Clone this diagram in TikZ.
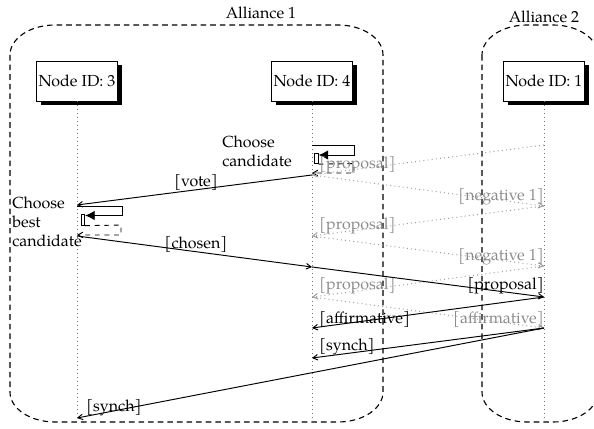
\documentclass[tikz,border=0pt]{standalone}
\usepackage{fontspec}
\setmainfont{TeX Gyre Pagella}
\usetikzlibrary{arrows.meta,shadows}
\begin{document}
\begin{tikzpicture}[x=0.625pt,y=-0.625pt,
  inst/.style={draw,fill=white,minimum width=50.5pt,minimum height=25pt,inner sep=1pt,line width=0.5pt,
    drop shadow={shadow xshift=2.6pt,shadow yshift=-2.6pt,opacity=1,fill=black}},
  life/.style={black!55,dotted,line width=0.5pt},
  alliance/.style={dash pattern=on 3.5pt off 2.5pt,line width=0.7pt},
  msg/.style={line width=0.6pt,-{Straight Barb[angle=60:3.5pt]}},
  gmsg/.style={black!40,dotted,line width=0.6pt,-{Straight Barb[angle=60:3.5pt]}},
  lbl/.style={inner sep=0pt},
  glbl/.style={inner sep=0pt,text=black!45},
  selfc/.style={line width=0.6pt,-{Latex[length=6pt,width=6pt]}},
  selfr/.style={dashed,line width=0.6pt,-{Straight Barb[angle=60:3.5pt]}},
  act/.style={draw,fill=white,line width=0.5pt,inner sep=0pt,minimum width=2.4pt,minimum height=6.5pt}
]
\useasboundingbox (0,0) rectangle (594,429);

% alliances
\draw[alliance] (10,55) -- (10,392) arc[start angle=180,end angle=90,x radius=45,y radius=30]
  -- (338,422) arc[start angle=90,end angle=0,x radius=45,y radius=30]
  -- (383,55) arc[start angle=0,end angle=-90,x radius=45,y radius=30]
  -- (55,25) arc[start angle=-90,end angle=-180,x radius=45,y radius=30] -- cycle;
\node[lbl] (al1) at (261,13) {Alliance 1};
\draw[alliance] (482,55) -- (482,392) arc[start angle=180,end angle=90,x radius=45,y radius=30]
  -- (553,422) arc[start angle=90,end angle=0,x radius=45,y radius=30]
  -- (598,55) arc[start angle=0,end angle=-90,x radius=45,y radius=30]
  -- (527,25) arc[start angle=-90,end angle=-180,x radius=45,y radius=30] -- cycle;
\node[lbl] (al2) at (544,17) {Alliance 2};

% instances
\node[inst] (n3) at (77,81) {Node ID: 3};
\node[inst] (n4) at (312,81) {Node ID: 4};
\node[inst] (n1) at (544,81) {Node ID: 1};
\draw[life] (n3.south) -- (n3 |- 0,421);
\draw[life] (n4.south) -- (n4 |- 0,421);
\draw[life] (n1.south) -- (n1 |- 0,421);

% self call on node 4
\node[act,anchor=north west] (a4) at (314,153) {};
\draw[selfc] (n4 |- 0,145) -- (354,145) -- (354,155) -- (a4.east |- 0,155);
\draw[selfr] (a4.south east) -- (354,163.5) -- (354,173) -- (n4 |- 0,173);
\node[lbl,anchor=west,align=left] (c4) at (222,151) {Choose\\candidate};

% grey messages
\draw[gmsg] (n1 |- 0,145) -- (n4 |- 0,175);
\node[glbl,anchor=west] (g1) at (319,165) {[proposal]};
\draw[gmsg] (n4 |- 0,175) -- (n1 |- 0,206);
\node[glbl,anchor=east] (g2) at (544,197) {[negative 1]};
\draw[gmsg] (n1 |- 0,206) -- (n4 |- 0,236);
\node[glbl,anchor=west] (g3) at (319,226) {[proposal]};
\draw[gmsg] (n4 |- 0,236) -- (n1 |- 0,266);
\node[glbl,anchor=east] (g4) at (544,257) {[negative 1]};
\draw[gmsg] (n1 |- 0,266) -- (n4 |- 0,297);
\node[glbl,anchor=west] (g5) at (319,286) {[proposal]};
\draw[gmsg] (n4 |- 0,297) -- (n1 |- 0,328);
\node[glbl,anchor=east] (g6) at (544,319) {[affirmative]};

% vote
\draw[msg] (n4 |- 0,175) -- (n3 |- 0,205);
\node[lbl] (vote) at (196,183) {[vote]};

% self call on node 3
\node[act,anchor=north west] (a3) at (80.5,214.5) {};
\draw[selfc] (n3 |- 0,206) -- (122,206) -- (122,215.5) -- (a3.east |- 0,215.5);
\draw[selfr] (a3.south east) -- (121,225) -- (121,235) -- (n3 |- 0,235);
\node[lbl,anchor=west,align=left] (c3) at (12,222) {Choose\\best\\candidate};

% chosen
\draw[msg] (n3 |- 0,236) -- (n4 |- 0,267);
\node[lbl] (chosen) at (196,244) {[chosen]};

% black messages
\draw[msg] (n4 |- 0,267) -- (n1 |- 0,297);
\node[lbl,anchor=east] (b1) at (544,286) {[proposal]};
\draw[msg] (n1 |- 0,297) -- (n4 |- 0,328);
\node[lbl,anchor=west] (b2) at (319,319) {[affirmative]};
\draw[msg] (n1 |- 0,328) -- (n4 |- 0,358);
\node[lbl,anchor=west] (b3) at (319,347) {[synch]};
\draw[msg] (n1 |- 0,328) -- (n3 |- 0,418);
\node[lbl,anchor=west] (b4) at (86,408) {[synch]};
\end{tikzpicture}
\end{document}
